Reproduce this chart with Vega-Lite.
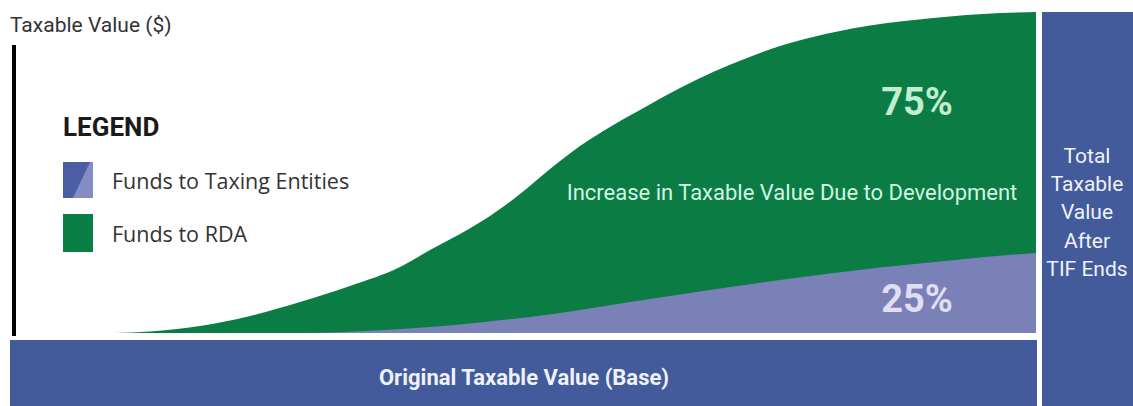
{
  "$schema": "https://vega.github.io/schema/vega-lite/v6.json",
  "width": 1133,
  "height": 406,
  "autosize": {"type": "none"},
  "padding": 0,
  "background": "white",
  "config": {"view": {"stroke": null}},
  "datasets": {
    "rda": [
      {"t": 115, "lo": 73, "hi": 73},
      {"t": 150, "lo": 73, "hi": 74.5},
      {"t": 200, "lo": 73, "hi": 80},
      {"t": 250, "lo": 73, "hi": 90},
      {"t": 300, "lo": 73, "hi": 104},
      {"t": 350, "lo": 73, "hi": 120},
      {"t": 400, "lo": 73, "hi": 139},
      {"t": 430, "lo": 73, "hi": 156},
      {"t": 460, "lo": 73, "hi": 172},
      {"t": 490, "lo": 73, "hi": 190},
      {"t": 520, "lo": 73, "hi": 212},
      {"t": 550, "lo": 73, "hi": 237},
      {"t": 580, "lo": 73, "hi": 260},
      {"t": 610, "lo": 73, "hi": 279},
      {"t": 647, "lo": 73, "hi": 300},
      {"t": 680, "lo": 73, "hi": 318},
      {"t": 713, "lo": 73, "hi": 334},
      {"t": 747, "lo": 73, "hi": 348},
      {"t": 780, "lo": 73, "hi": 360},
      {"t": 813, "lo": 73, "hi": 369},
      {"t": 867, "lo": 73, "hi": 380},
      {"t": 933, "lo": 73, "hi": 388},
      {"t": 1000, "lo": 73, "hi": 393},
      {"t": 1036, "lo": 73, "hi": 394}
    ],
    "taxing": [
      {"t": 280, "lo": 73, "hi": 73},
      {"t": 330, "lo": 73, "hi": 73.6},
      {"t": 380, "lo": 73, "hi": 75.8},
      {"t": 430, "lo": 73, "hi": 79},
      {"t": 480, "lo": 73, "hi": 83.5},
      {"t": 530, "lo": 73, "hi": 89},
      {"t": 580, "lo": 73, "hi": 96},
      {"t": 630, "lo": 73, "hi": 104},
      {"t": 680, "lo": 73, "hi": 111.5},
      {"t": 730, "lo": 73, "hi": 119},
      {"t": 780, "lo": 73, "hi": 126},
      {"t": 830, "lo": 73, "hi": 132.5},
      {"t": 880, "lo": 73, "hi": 138.5},
      {"t": 930, "lo": 73, "hi": 143.5},
      {"t": 980, "lo": 73, "hi": 148.5},
      {"t": 1036, "lo": 73, "hi": 153}
    ],
    "blocks": [
      {"name": "Original Taxable Value (Base)", "t0": 10, "t1": 1037, "v0": 0, "v1": 66},
      {"name": "Total Taxable Value After TIF Ends", "t0": 1042, "t1": 1133, "v0": 0, "v1": 394}
    ],
    "axisline": [{"t": 14, "v0": 70, "v1": 361}],
    "swatches": [
      {"series": "Funds to Taxing Entities", "t0": 63, "t1": 93, "v0": 208, "v1": 244, "color": "#4a5ea6"},
      {"series": "Funds to RDA", "t0": 63, "t1": 93, "v0": 154, "v1": 192, "color": "#0a7f45"}
    ],
    "swatchlight": [{"series": "Funds to Taxing Entities", "t": 78, "v": 226}],
    "labels": [
      {"kind": "title", "t": 10, "v": 380, "text": "Taxable Value ($)"},
      {"kind": "legendhead", "t": 63, "v": 278, "text": "LEGEND"},
      {"kind": "legend", "t": 112, "v": 223, "text": "Funds to Taxing Entities"},
      {"kind": "legend", "t": 112, "v": 170, "text": "Funds to RDA"},
      {"kind": "pctg", "t": 917, "v": 302, "text": "75%"},
      {"kind": "pctp", "t": 917, "v": 105, "text": "25%"},
      {"kind": "increase", "t": 792, "v": 213, "text": "Increase in Taxable Value Due to Development"},
      {"kind": "base", "t": 524, "v": 28, "text": "Original Taxable Value (Base)"},
      {"kind": "after", "t": 1087, "v": 249, "text": "Total"},
      {"kind": "after", "t": 1087, "v": 221, "text": "Taxable"},
      {"kind": "after", "t": 1087, "v": 193, "text": "Value"},
      {"kind": "after", "t": 1087, "v": 164, "text": "After"},
      {"kind": "after", "t": 1087, "v": 136, "text": "TIF Ends"}
    ]
  },
  "layer": [
    {
      "data": {"name": "blocks"},
      "mark": {"type": "rect", "color": "#435b9b"},
      "encoding": {
        "x": {"field": "t0", "type": "quantitative", "scale": {"domain": [0, 1133], "nice": false, "zero": false}, "axis": null},
        "x2": {"field": "t1"},
        "y": {"field": "v0", "type": "quantitative", "scale": {"domain": [0, 406], "nice": false, "zero": false}, "axis": null},
        "y2": {"field": "v1"}
      }
    },
    {
      "data": {"name": "rda"},
      "mark": {"type": "area", "color": "#0a7c44", "interpolate": "monotone"},
      "encoding": {
        "x": {"field": "t", "type": "quantitative"},
        "y": {"field": "lo", "type": "quantitative"},
        "y2": {"field": "hi"}
      }
    },
    {
      "data": {"name": "taxing"},
      "mark": {"type": "area", "color": "#7a81b7", "interpolate": "monotone"},
      "encoding": {
        "x": {"field": "t", "type": "quantitative"},
        "y": {"field": "lo", "type": "quantitative"},
        "y2": {"field": "hi"}
      }
    },
    {
      "data": {"name": "axisline"},
      "mark": {"type": "rule", "color": "#000000", "strokeWidth": 4},
      "encoding": {
        "x": {"field": "t", "type": "quantitative"},
        "y": {"field": "v0", "type": "quantitative"},
        "y2": {"field": "v1"}
      }
    },
    {
      "data": {"name": "swatches"},
      "mark": {"type": "rect"},
      "encoding": {
        "x": {"field": "t0", "type": "quantitative"},
        "x2": {"field": "t1"},
        "y": {"field": "v0", "type": "quantitative"},
        "y2": {"field": "v1"},
        "color": {"field": "color", "type": "nominal", "scale": null, "legend": null}
      }
    },
    {
      "data": {"name": "swatchlight"},
      "mark": {"type": "point", "filled": true, "opacity": 1, "fill": "#858cc4", "strokeWidth": 0, "size": 1296, "shape": "M0.667,-1L0.833,-1L0.833,1L-0.278,1Z"},
      "encoding": {
        "x": {"field": "t", "type": "quantitative"},
        "y": {"field": "v", "type": "quantitative"}
      }
    },
    {
      "data": {"name": "labels"},
      "transform": [{"filter": "datum.kind === 'title'"}],
      "mark": {"type": "text", "align": "left", "baseline": "middle", "font": "Roboto", "fontSize": 21, "color": "#333333"},
      "encoding": {"x": {"field": "t", "type": "quantitative"}, "y": {"field": "v", "type": "quantitative"}, "text": {"field": "text"}}
    },
    {
      "data": {"name": "labels"},
      "transform": [{"filter": "datum.kind === 'legendhead'"}],
      "mark": {"type": "text", "align": "left", "baseline": "middle", "font": "Roboto", "fontWeight": "bold", "fontSize": 26, "color": "#1a1a1a"},
      "encoding": {"x": {"field": "t", "type": "quantitative"}, "y": {"field": "v", "type": "quantitative"}, "text": {"field": "text"}}
    },
    {
      "data": {"name": "labels"},
      "transform": [{"filter": "datum.kind === 'legend'"}],
      "mark": {"type": "text", "align": "left", "baseline": "middle", "font": "Open Sans", "fontSize": 21.5, "color": "#333333"},
      "encoding": {"x": {"field": "t", "type": "quantitative"}, "y": {"field": "v", "type": "quantitative"}, "text": {"field": "text"}}
    },
    {
      "data": {"name": "labels"},
      "transform": [{"filter": "datum.kind === 'pctg'"}],
      "mark": {"type": "text", "align": "center", "baseline": "middle", "font": "Roboto", "fontWeight": "bold", "fontSize": 38, "color": "#c3ecd3"},
      "encoding": {"x": {"field": "t", "type": "quantitative"}, "y": {"field": "v", "type": "quantitative"}, "text": {"field": "text"}}
    },
    {
      "data": {"name": "labels"},
      "transform": [{"filter": "datum.kind === 'pctp'"}],
      "mark": {"type": "text", "align": "center", "baseline": "middle", "font": "Roboto", "fontWeight": "bold", "fontSize": 38, "color": "#e0def2"},
      "encoding": {"x": {"field": "t", "type": "quantitative"}, "y": {"field": "v", "type": "quantitative"}, "text": {"field": "text"}}
    },
    {
      "data": {"name": "labels"},
      "transform": [{"filter": "datum.kind === 'increase'"}],
      "mark": {"type": "text", "align": "center", "baseline": "middle", "font": "Roboto", "fontSize": 22, "color": "#d2f5e2"},
      "encoding": {"x": {"field": "t", "type": "quantitative"}, "y": {"field": "v", "type": "quantitative"}, "text": {"field": "text"}}
    },
    {
      "data": {"name": "labels"},
      "transform": [{"filter": "datum.kind === 'base'"}],
      "mark": {"type": "text", "align": "center", "baseline": "middle", "font": "Roboto", "fontWeight": "bold", "fontSize": 22, "color": "#eef2fa"},
      "encoding": {"x": {"field": "t", "type": "quantitative"}, "y": {"field": "v", "type": "quantitative"}, "text": {"field": "text"}}
    },
    {
      "data": {"name": "labels"},
      "transform": [{"filter": "datum.kind === 'after'"}],
      "mark": {"type": "text", "align": "center", "baseline": "middle", "font": "Roboto", "fontSize": 21, "color": "#eef2fa"},
      "encoding": {"x": {"field": "t", "type": "quantitative"}, "y": {"field": "v", "type": "quantitative"}, "text": {"field": "text"}}
    }
  ]
}
